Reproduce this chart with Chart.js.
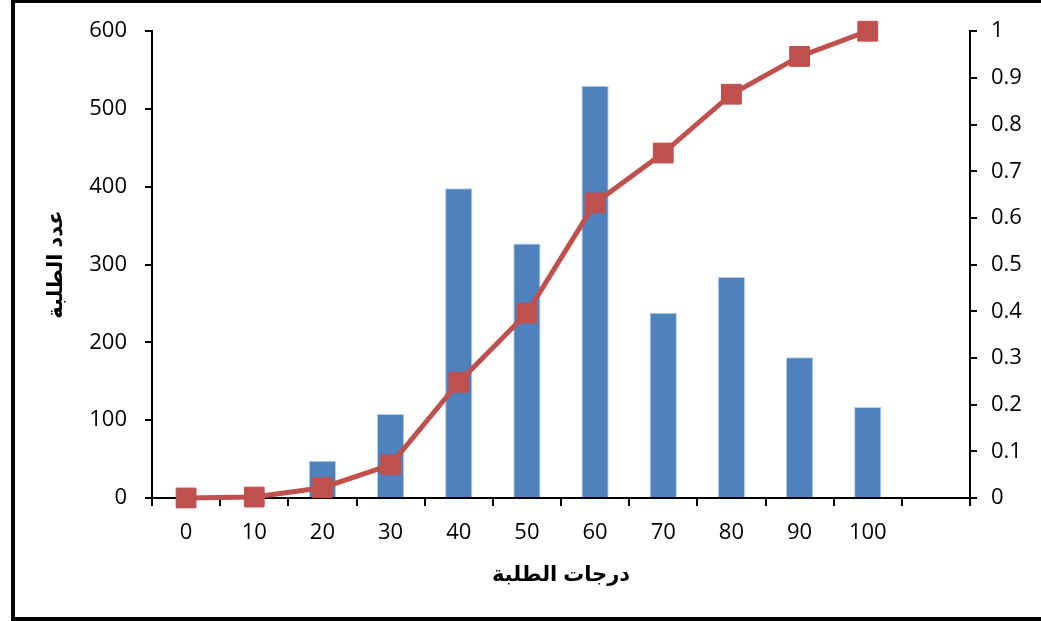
<!DOCTYPE html>
<html>
<head>
<meta charset="utf-8">
<script src="https://cdn.jsdelivr.net/npm/chart.js@4/dist/chart.umd.min.js"></script>
<style>
  html, body { margin: 0; padding: 0; background: #fff; }
  canvas { display: block; }
</style>
</head>
<body>
<canvas id="gradesChart" width="1041" height="621"></canvas>
<script>
// grade categories (last slot is empty, as in the original)
const grades = ["0", "10", "20", "30", "40", "50", "60", "70", "80", "90", "100", ""];
// number of students per grade
const studentCounts = [0, 0, 48, 108, 398, 327, 530, 238, 284, 181, 117, null];
// cumulative share of students
const cumulativeShare = [0, 0.002, 0.022, 0.071, 0.248, 0.396, 0.632, 0.739, 0.865, 0.946, 1, null];

const leftTicks = [0, 100, 200, 300, 400, 500, 600];
const rightTicks = [0, 0.1, 0.2, 0.3, 0.4, 0.5, 0.6, 0.7, 0.8, 0.9, 1];

const tickFont = { family: "'Open Sans', 'Liberation Sans', sans-serif", size: 22 };
const titleFont = { family: "'Liberation Sans', 'DejaVu Sans', sans-serif", size: 21, weight: "bold" };

const framePlugin = {
	id: "frame",
	afterDraw(chart) {
		const ctx = chart.ctx;
		ctx.save();
		ctx.strokeStyle = "#000";
		ctx.lineWidth = 4;
		ctx.strokeRect(13, 1, 1100, 618);
		ctx.restore();
	},
};

new Chart(document.getElementById("gradesChart"), {
	type: "bar",
	plugins: [framePlugin],
	data: {
		labels: grades,
		datasets: [
			{
				type: "line",
				label: "cumulative",
				data: cumulativeShare,
				yAxisID: "y1",
				borderColor: "#C0504D",
				backgroundColor: "#C0504D",
				borderWidth: 5,
				pointStyle: "rect",
				pointRadius: 14,
				pointBorderWidth: 1,
				tension: 0,
				clip: false,
				order: 0,
			},
			{
				label: "students",
				data: studentCounts,
				yAxisID: "y",
				backgroundColor: "#4F81BD",
				borderColor: "#B9CDE5",
				borderWidth: { top: 1, left: 1, right: 1, bottom: 0 },
				barPercentage: 0.4,
				categoryPercentage: 1,
				order: 1,
			},
		],
	},
	options: {
		responsive: false,
		animation: false,
		layout: { padding: { left: 44, right: 0, top: 31, bottom: 28 } },
		plugins: { legend: { display: false }, tooltip: { enabled: false } },
		scales: {
			x: {
				offset: true,
				grid: { offset: true, drawOnChartArea: false, color: "#000", lineWidth: 2, tickLength: 8 },
				border: { color: "#000", width: 2 },
				ticks: { color: "#000", font: tickFont, padding: 14, maxRotation: 0 },
				title: { display: true, text: "درجات الطلبة", color: "#000", font: titleFont, padding: { top: 0, bottom: 5 } },
				afterFit(scale) { scale.height = 621 - 498 - 28; },
			},
			y: {
				position: "left",
				min: 0,
				max: 600,
				afterBuildTicks(scale) { scale.ticks = leftTicks.map((v) => ({ value: v })); },
				grid: { drawOnChartArea: false, color: "#000", lineWidth: 2, tickLength: 7 },
				border: { color: "#000", width: 2 },
				ticks: { color: "#000", font: tickFont, padding: 18 },
				title: { display: true, text: "عدد الطلبة", color: "#000", font: titleFont, padding: 0 },
				afterFit(scale) { scale.width = 152 - 44; },
			},
			y1: {
				position: "right",
				min: 0,
				max: 1,
				afterBuildTicks(scale) { scale.ticks = rightTicks.map((v) => ({ value: v })); },
				grid: { drawOnChartArea: false, color: "#000", lineWidth: 2, tickLength: 7 },
				border: { color: "#000", width: 2 },
				ticks: { color: "#000", font: tickFont, padding: 14, callback: (v) => String(v) },
				afterFit(scale) { scale.width = 1041 - 970; },
			},
		},
	},
});
</script>
</body>
</html>
